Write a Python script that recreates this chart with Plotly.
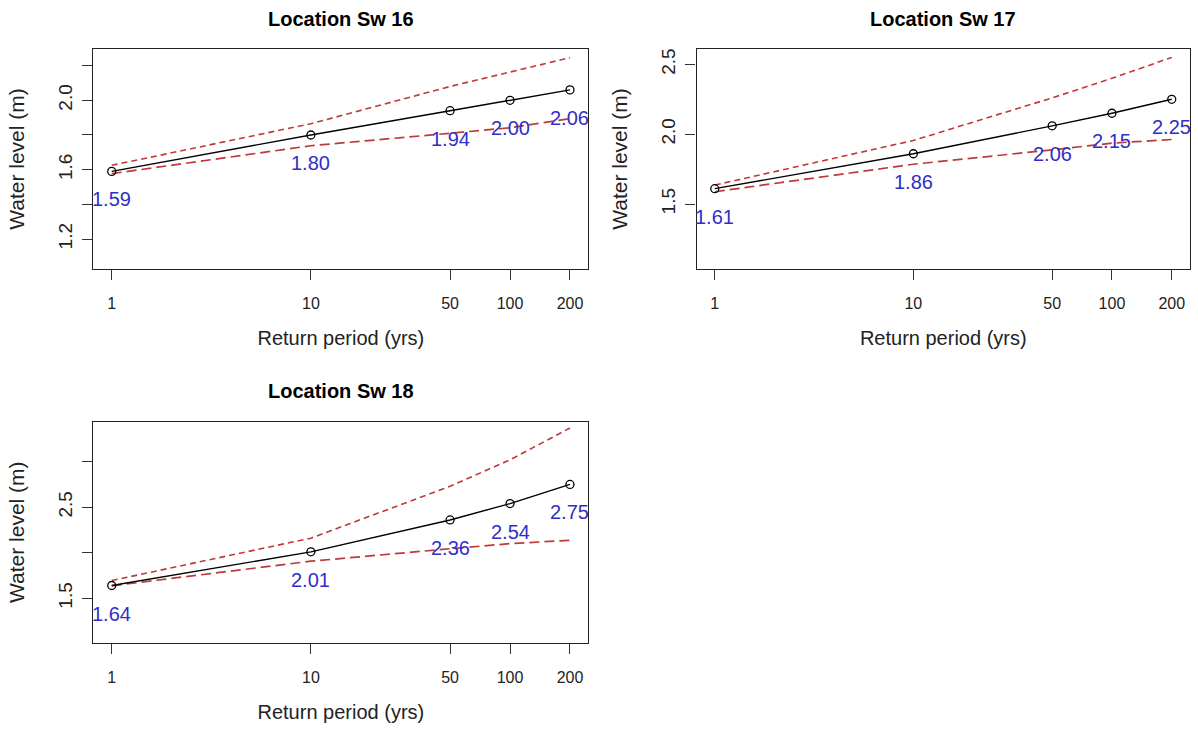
import math
import plotly.graph_objects as go

# ---------------- data ----------------
return_periods = [1, 10, 50, 100, 200]
period_labels = ["1", "10", "50", "100", "200"]

sw16_est = [1.59, 1.80, 1.94, 2.00, 2.06]
sw16_upper = [1.625, 1.865, 2.08, 2.165, 2.246]
sw16_lower = [1.577, 1.738, 1.81, 1.842, 1.894]

sw17_est = [1.61, 1.86, 2.06, 2.15, 2.25]
sw17_upper = [1.636, 1.955, 2.26, 2.40, 2.55]
sw17_lower = [1.588, 1.785, 1.888, 1.936, 1.962]

sw18_est = [1.64, 2.01, 2.36, 2.54, 2.75]
sw18_upper = [1.695, 2.16, 2.73, 3.02, 3.37]
sw18_lower = [1.637, 1.907, 2.044, 2.10, 2.137]

panel_titles = ["Location Sw 16", "Location Sw 17", "Location Sw 18"]
y_tickvals = [[1.2, 1.4, 1.6, 1.8, 2.0, 2.2], [1.5, 2.0, 2.5], [1.5, 2.0, 2.5, 3.0]]
y_ticktext = [["1.2", "", "1.6", "", "2.0", ""], ["1.5", "2.0", "2.5"], ["1.5", "", "2.5", ""]]
y_ranges = [[1.027, 2.296], [1.035, 2.61], [1.012, 3.439]]

# ---------------- style / layout ----------------
W, H = 1198, 733
FONT = "Liberation Sans, Arial, sans-serif"
RED = "#BE3A3A"
BLUE = "#2f2fc8"

# pixel boxes (left, right, top, bottom)
boxes = [(93.4, 588.3, 49, 269), (696.5, 1190, 49, 269), (93.4, 588.3, 421.7, 642.7)]
title_y = [19, 19, 391]

series = [(sw16_est, sw16_upper, sw16_lower),
          (sw17_est, sw17_upper, sw17_lower),
          (sw18_est, sw18_upper, sw18_lower)]

fig = go.Figure()
annotations = []
layout = dict(
    width=W, height=H,
    margin=dict(l=0, r=0, t=0, b=0),
    paper_bgcolor="white", plot_bgcolor="white",
    showlegend=False,
    font=dict(family=FONT, color="black"),
)

for i, ((est, up, lo), box) in enumerate(zip(series, boxes)):
    n = "" if i == 0 else str(i + 1)
    xa, ya = "x" + n, "y" + n
    l, r, t, b = box
    xdom = [l / W, r / W]
    ydom = [1 - b / H, 1 - t / H]

    fig.add_trace(go.Scatter(x=return_periods, y=up, mode="lines", xaxis=xa, yaxis=ya,
                             line=dict(color=RED, width=1.6, dash="6px,4px")))
    fig.add_trace(go.Scatter(x=return_periods, y=lo, mode="lines", xaxis=xa, yaxis=ya,
                             line=dict(color=RED, width=1.7, dash="10px,5px")))
    fig.add_trace(go.Scatter(x=return_periods, y=est, mode="lines+markers", xaxis=xa, yaxis=ya,
                             line=dict(color="black", width=1.4),
                             marker=dict(symbol="circle-open", size=8, color="black",
                                         line=dict(width=1.3, color="black"))))

    for xv, yv in zip(return_periods, est):
        annotations.append(dict(x=math.log10(xv), y=yv, xref=xa, yref=ya,
                                text=f"{yv:.2f}", showarrow=False, yshift=-28,
                                xanchor="center", yanchor="middle",
                                font=dict(size=20, color=BLUE, family=FONT)))

    annotations.append(dict(x=(l + r) / 2 / W, y=1 - title_y[i] / H, xref="paper", yref="paper",
                            text="<b>" + panel_titles[i] + "</b>", showarrow=False,
                            xanchor="center", yanchor="middle",
                            font=dict(size=20, color="black", family=FONT)))

    layout["xaxis" + n] = dict(
        domain=xdom, anchor=ya, type="log", range=[-0.092, 2.393],
        tickmode="array", tickvals=return_periods, ticktext=period_labels,
        ticks="outside", ticklen=10, tickwidth=1, tickcolor="#333",
        ticklabelstandoff=10,
        showline=True, mirror=True, linecolor="#222", linewidth=1.2,
        showgrid=False, zeroline=False, automargin=False,
        tickfont=dict(size=16, color="#222"),
        title=dict(text="Return period (yrs)", standoff=19, font=dict(size=20, color="#222")),
    )
    layout["yaxis" + n] = dict(
        domain=ydom, anchor=xa, range=y_ranges[i],
        tickmode="array", tickvals=y_tickvals[i], ticktext=y_ticktext[i],
        ticks="outside", ticklen=10, tickwidth=1, tickcolor="#333",
        tickangle=-90, ticklabelstandoff=3,
        showline=True, mirror=True, linecolor="#222", linewidth=1.2,
        showgrid=False, zeroline=False, automargin=False,
        tickfont=dict(size=19, color="#222"),
        title=dict(text="Water level (m)", standoff=24, font=dict(size=21, color="#222")),
    )

layout["annotations"] = annotations
fig.update_layout(**layout)
fig.write_html("out.html")
